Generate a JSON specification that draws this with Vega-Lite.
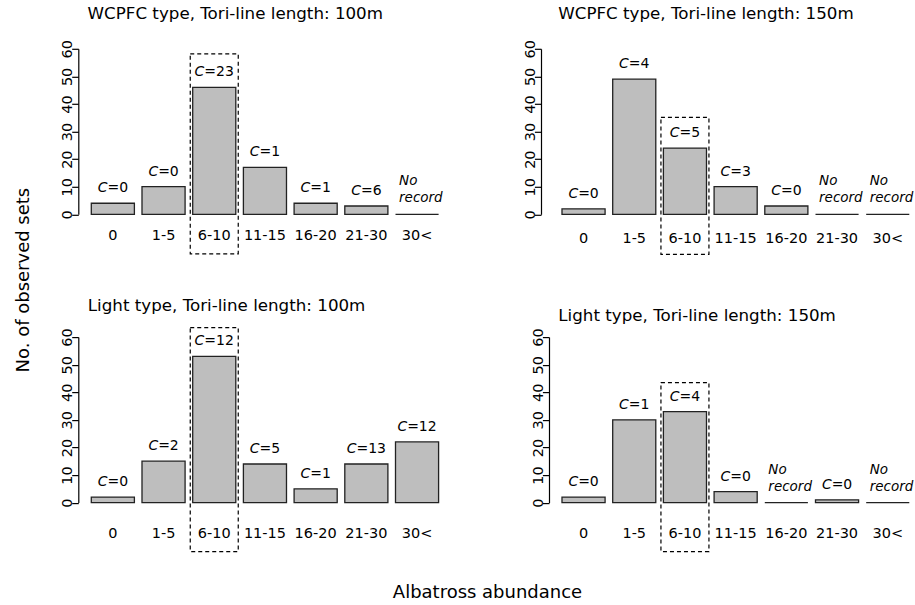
{
  "$schema": "https://vega.github.io/schema/vega-lite/v6.json",
  "padding": {"left": 14.3, "top": 4.8, "right": 0, "bottom": 0},
  "datasets": {
    "d": [
      {"panel": "P1", "cat": "0", "n": 4, "C": 0},
      {"panel": "P1", "cat": "1-5", "n": 10, "C": 0},
      {"panel": "P1", "cat": "6-10", "n": 46, "C": 23},
      {"panel": "P1", "cat": "11-15", "n": 17, "C": 1},
      {"panel": "P1", "cat": "16-20", "n": 4, "C": 1},
      {"panel": "P1", "cat": "21-30", "n": 3, "C": 6},
      {"panel": "P1", "cat": "30<", "n": 0, "C": null},
      {"panel": "P2", "cat": "0", "n": 2, "C": 0},
      {"panel": "P2", "cat": "1-5", "n": 49, "C": 4},
      {"panel": "P2", "cat": "6-10", "n": 24, "C": 5},
      {"panel": "P2", "cat": "11-15", "n": 10, "C": 3},
      {"panel": "P2", "cat": "16-20", "n": 3, "C": 0},
      {"panel": "P2", "cat": "21-30", "n": 0, "C": null},
      {"panel": "P2", "cat": "30<", "n": 0, "C": null},
      {"panel": "P3", "cat": "0", "n": 2, "C": 0},
      {"panel": "P3", "cat": "1-5", "n": 15, "C": 2},
      {"panel": "P3", "cat": "6-10", "n": 53, "C": 12},
      {"panel": "P3", "cat": "11-15", "n": 14, "C": 5},
      {"panel": "P3", "cat": "16-20", "n": 5, "C": 1},
      {"panel": "P3", "cat": "21-30", "n": 14, "C": 13},
      {"panel": "P3", "cat": "30<", "n": 22, "C": 12},
      {"panel": "P4", "cat": "0", "n": 2, "C": 0},
      {"panel": "P4", "cat": "1-5", "n": 30, "C": 1},
      {"panel": "P4", "cat": "6-10", "n": 33, "C": 4},
      {"panel": "P4", "cat": "11-15", "n": 4, "C": 0},
      {"panel": "P4", "cat": "16-20", "n": 0, "C": null},
      {"panel": "P4", "cat": "21-30", "n": 1, "C": 0},
      {"panel": "P4", "cat": "30<", "n": 0, "C": null}
    ]
  },
  "data": {"name": "d"},
  "columns": 2,
  "spacing": {"row": 122.3, "column": 104.7},
  "bounds": "flush",
  "concat": [
    {
      "width": 366, "height": 165.5,
      "title": {"text": "WCPFC type, Tori-line length: 100m", "offset": 17.1, "dx": 9.3},
      "transform": [{"filter": "datum.panel == 'P1'"}],
      "encoding": {
        "x": {"field": "cat", "type": "nominal", "title": null,
              "scale": {"domain": ["0","1-5","6-10","11-15","16-20","21-30","30<"], "paddingInner": 0.15, "paddingOuter": 0.1844, "align": 0.695},
              "axis": {"labelPadding": 14}},
        "y": {"field": "n", "type": "quantitative", "title": "No. of observed sets",
              "scale": {"domain": [0, 60], "nice": false},
              "axis": {"values": [0,10,20,30,40,50,60], "titleX": -50, "titleY": 230.8, "titleAngle": -90, "titleAlign": "center", "titleBaseline": "alphabetic"}}
      },
      "layer": [
        {"mark": {"type": "bar", "fill": "#bebebe", "stroke": "#222222", "strokeWidth": 1.3}},
        {"transform": [{"filter": "datum.cat == '6-10'"}], "mark": {"type": "bar", "filled": false, "fill": null, "stroke": "black", "strokeWidth": 1.2, "strokeDash": [4, 3], "width": 48, "yOffset": -33.6, "y2Offset": 39.5}, "encoding": {"y2": {"datum": 0}}},
        {"transform": [{"filter": "datum.C != null && datum.C < 10"}], "mark": {"type": "text", "text": "C", "fontStyle": "italic", "align": "right", "baseline": "alphabetic", "dx": -5.4, "dy": -11}},
        {"transform": [{"filter": "datum.C != null && datum.C >= 10"}], "mark": {"type": "text", "text": "C", "fontStyle": "italic", "align": "right", "baseline": "alphabetic", "dx": -9.9, "dy": -11}},
        {"transform": [{"filter": "datum.C != null && datum.C < 10"}], "mark": {"type": "text", "text": "=", "align": "left", "baseline": "alphabetic", "dx": -5.4, "dy": -11}},
        {"transform": [{"filter": "datum.C != null && datum.C >= 10"}], "mark": {"type": "text", "text": "=", "align": "left", "baseline": "alphabetic", "dx": -9.9, "dy": -11}},
        {"transform": [{"filter": "datum.C != null && datum.C < 10"}], "mark": {"type": "text", "align": "left", "baseline": "alphabetic", "dx": 6.3, "dy": -11}, "encoding": {"text": {"field": "C", "type": "quantitative"}}},
        {"transform": [{"filter": "datum.C != null && datum.C >= 10"}], "mark": {"type": "text", "align": "left", "baseline": "alphabetic", "dx": 1.8, "dy": -11}, "encoding": {"text": {"field": "C", "type": "quantitative"}}},
        {"transform": [{"filter": "datum.C == null"}], "mark": {"type": "text", "text": "No", "fontStyle": "italic", "fontSize": 13.5, "align": "left", "baseline": "alphabetic", "dx": -18, "dy": -29}},
        {"transform": [{"filter": "datum.C == null"}], "mark": {"type": "text", "text": "record", "fontStyle": "italic", "fontSize": 13.5, "align": "left", "baseline": "alphabetic", "dx": -18, "dy": -12}}
      ]
    },
    {
      "width": 366, "height": 165.5,
      "title": {"text": "WCPFC type, Tori-line length: 150m", "offset": 17.1, "dx": 9.3},
      "transform": [{"filter": "datum.panel == 'P2'"}],
      "encoding": {
        "x": {"field": "cat", "type": "nominal", "title": null,
              "scale": {"domain": ["0","1-5","6-10","11-15","16-20","21-30","30<"], "paddingInner": 0.15, "paddingOuter": 0.1844, "align": 0.695},
              "axis": {"labelPadding": 17.6}},
        "y": {"field": "n", "type": "quantitative", "title": null,
              "scale": {"domain": [0, 60], "nice": false},
              "axis": {"values": [0,10,20,30,40,50,60], "offset": 8}}
      },
      "layer": [
        {"mark": {"type": "bar", "fill": "#bebebe", "stroke": "#222222", "strokeWidth": 1.3}},
        {"transform": [{"filter": "datum.cat == '6-10'"}], "mark": {"type": "bar", "filled": false, "fill": null, "stroke": "black", "strokeWidth": 1.2, "strokeDash": [4, 3], "width": 48, "yOffset": -30.7, "y2Offset": 40.1}, "encoding": {"y2": {"datum": 0}}},
        {"transform": [{"filter": "datum.C != null && datum.C < 10"}], "mark": {"type": "text", "text": "C", "fontStyle": "italic", "align": "right", "baseline": "alphabetic", "dx": -5.4, "dy": -11}},
        {"transform": [{"filter": "datum.C != null && datum.C >= 10"}], "mark": {"type": "text", "text": "C", "fontStyle": "italic", "align": "right", "baseline": "alphabetic", "dx": -9.9, "dy": -11}},
        {"transform": [{"filter": "datum.C != null && datum.C < 10"}], "mark": {"type": "text", "text": "=", "align": "left", "baseline": "alphabetic", "dx": -5.4, "dy": -11}},
        {"transform": [{"filter": "datum.C != null && datum.C >= 10"}], "mark": {"type": "text", "text": "=", "align": "left", "baseline": "alphabetic", "dx": -9.9, "dy": -11}},
        {"transform": [{"filter": "datum.C != null && datum.C < 10"}], "mark": {"type": "text", "align": "left", "baseline": "alphabetic", "dx": 6.3, "dy": -11}, "encoding": {"text": {"field": "C", "type": "quantitative"}}},
        {"transform": [{"filter": "datum.C != null && datum.C >= 10"}], "mark": {"type": "text", "align": "left", "baseline": "alphabetic", "dx": 1.8, "dy": -11}, "encoding": {"text": {"field": "C", "type": "quantitative"}}},
        {"transform": [{"filter": "datum.C == null"}], "mark": {"type": "text", "text": "No", "fontStyle": "italic", "fontSize": 13.5, "align": "left", "baseline": "alphabetic", "dx": -18, "dy": -29}},
        {"transform": [{"filter": "datum.C == null"}], "mark": {"type": "text", "text": "record", "fontStyle": "italic", "fontSize": 13.5, "align": "left", "baseline": "alphabetic", "dx": -18, "dy": -12}}
      ]
    },
    {
      "width": 366, "height": 165.5,
      "title": {"text": "Light type, Tori-line length: 100m", "offset": 12, "dx": 9.5},
      "transform": [{"filter": "datum.panel == 'P3'"}],
      "encoding": {
        "x": {"field": "cat", "type": "nominal", "title": "Albatross abundance",
              "scale": {"domain": ["0","1-5","6-10","11-15","16-20","21-30","30<"], "paddingInner": 0.15, "paddingOuter": 0.1844, "align": 0.695},
              "axis": {"labelPadding": 23.5, "titleX": 408.7, "titleY": 95, "titleAngle": 0, "titleAlign": "center", "titleBaseline": "alphabetic"}},
        "y": {"field": "n", "type": "quantitative", "title": null,
              "scale": {"domain": [0, 60], "nice": false},
              "axis": {"values": [0,10,20,30,40,50,60]}}
      },
      "layer": [
        {"mark": {"type": "bar", "fill": "#bebebe", "stroke": "#222222", "strokeWidth": 1.3}},
        {"transform": [{"filter": "datum.cat == '6-10'"}], "mark": {"type": "bar", "filled": false, "fill": null, "stroke": "black", "strokeWidth": 1.2, "strokeDash": [4, 3], "width": 48, "yOffset": -28.8, "y2Offset": 49}, "encoding": {"y2": {"datum": 0}}},
        {"transform": [{"filter": "datum.C != null && datum.C < 10"}], "mark": {"type": "text", "text": "C", "fontStyle": "italic", "align": "right", "baseline": "alphabetic", "dx": -5.4, "dy": -11}},
        {"transform": [{"filter": "datum.C != null && datum.C >= 10"}], "mark": {"type": "text", "text": "C", "fontStyle": "italic", "align": "right", "baseline": "alphabetic", "dx": -9.9, "dy": -11}},
        {"transform": [{"filter": "datum.C != null && datum.C < 10"}], "mark": {"type": "text", "text": "=", "align": "left", "baseline": "alphabetic", "dx": -5.4, "dy": -11}},
        {"transform": [{"filter": "datum.C != null && datum.C >= 10"}], "mark": {"type": "text", "text": "=", "align": "left", "baseline": "alphabetic", "dx": -9.9, "dy": -11}},
        {"transform": [{"filter": "datum.C != null && datum.C < 10"}], "mark": {"type": "text", "align": "left", "baseline": "alphabetic", "dx": 6.3, "dy": -11}, "encoding": {"text": {"field": "C", "type": "quantitative"}}},
        {"transform": [{"filter": "datum.C != null && datum.C >= 10"}], "mark": {"type": "text", "align": "left", "baseline": "alphabetic", "dx": 1.8, "dy": -11}, "encoding": {"text": {"field": "C", "type": "quantitative"}}},
        {"transform": [{"filter": "datum.C == null"}], "mark": {"type": "text", "text": "No", "fontStyle": "italic", "fontSize": 13.5, "align": "left", "baseline": "alphabetic", "dx": -18, "dy": -29}},
        {"transform": [{"filter": "datum.C == null"}], "mark": {"type": "text", "text": "record", "fontStyle": "italic", "fontSize": 13.5, "align": "left", "baseline": "alphabetic", "dx": -18, "dy": -12}}
      ]
    },
    {
      "width": 366, "height": 165.5,
      "title": {"text": "Light type, Tori-line length: 150m", "offset": 3.3, "dx": 9.3},
      "transform": [{"filter": "datum.panel == 'P4'"}],
      "encoding": {
        "x": {"field": "cat", "type": "nominal", "title": null,
              "scale": {"domain": ["0","1-5","6-10","11-15","16-20","21-30","30<"], "paddingInner": 0.15, "paddingOuter": 0.1844, "align": 0.695},
              "axis": {"labelPadding": 23.5}},
        "y": {"field": "n", "type": "quantitative", "title": null,
              "scale": {"domain": [0, 60], "nice": false},
              "axis": {"values": [0,10,20,30,40,50,60]}}
      },
      "layer": [
        {"mark": {"type": "bar", "fill": "#bebebe", "stroke": "#222222", "strokeWidth": 1.3}},
        {"transform": [{"filter": "datum.cat == '6-10'"}], "mark": {"type": "bar", "filled": false, "fill": null, "stroke": "black", "strokeWidth": 1.2, "strokeDash": [4, 3], "width": 48, "yOffset": -29, "y2Offset": 49}, "encoding": {"y2": {"datum": 0}}},
        {"transform": [{"filter": "datum.C != null && datum.C < 10"}], "mark": {"type": "text", "text": "C", "fontStyle": "italic", "align": "right", "baseline": "alphabetic", "dx": -5.4, "dy": -11}},
        {"transform": [{"filter": "datum.C != null && datum.C >= 10"}], "mark": {"type": "text", "text": "C", "fontStyle": "italic", "align": "right", "baseline": "alphabetic", "dx": -9.9, "dy": -11}},
        {"transform": [{"filter": "datum.C != null && datum.C < 10"}], "mark": {"type": "text", "text": "=", "align": "left", "baseline": "alphabetic", "dx": -5.4, "dy": -11}},
        {"transform": [{"filter": "datum.C != null && datum.C >= 10"}], "mark": {"type": "text", "text": "=", "align": "left", "baseline": "alphabetic", "dx": -9.9, "dy": -11}},
        {"transform": [{"filter": "datum.C != null && datum.C < 10"}], "mark": {"type": "text", "align": "left", "baseline": "alphabetic", "dx": 6.3, "dy": -11}, "encoding": {"text": {"field": "C", "type": "quantitative"}}},
        {"transform": [{"filter": "datum.C != null && datum.C >= 10"}], "mark": {"type": "text", "align": "left", "baseline": "alphabetic", "dx": 1.8, "dy": -11}, "encoding": {"text": {"field": "C", "type": "quantitative"}}},
        {"transform": [{"filter": "datum.C == null"}], "mark": {"type": "text", "text": "No", "fontStyle": "italic", "fontSize": 13.5, "align": "left", "baseline": "alphabetic", "dx": -18, "dy": -29}},
        {"transform": [{"filter": "datum.C == null"}], "mark": {"type": "text", "text": "record", "fontStyle": "italic", "fontSize": 13.5, "align": "left", "baseline": "alphabetic", "dx": -18, "dy": -12}}
      ]
    }
  ],
  "config": {
    "font": "DejaVu Sans",
    "view": {"stroke": null},
    "background": "white",
    "text": {"fontSize": 14, "color": "black", "font": "DejaVu Sans"},
    "title": {"font": "DejaVu Sans", "fontSize": 16.7, "fontWeight": "normal", "color": "black", "anchor": "start", "frame": "group", "baseline": "alphabetic"},
    "axis": {"grid": false, "labelFont": "DejaVu Sans", "labelFontSize": 14.5, "labelColor": "black", "titleFont": "DejaVu Sans", "titleFontSize": 18, "titleFontWeight": "normal", "titleColor": "black", "labelOverlap": false, "labelFlush": false},
    "axisX": {"domain": false, "ticks": false, "tickSize": 0, "labelAngle": 0},
    "axisY": {"domain": true, "domainColor": "black", "domainWidth": 1.2, "ticks": true, "tickColor": "black", "tickWidth": 1.2, "tickSize": 6.6, "labelAngle": -90, "labelAlign": "center", "labelBaseline": "alphabetic", "labelPadding": 0}
  }
}
